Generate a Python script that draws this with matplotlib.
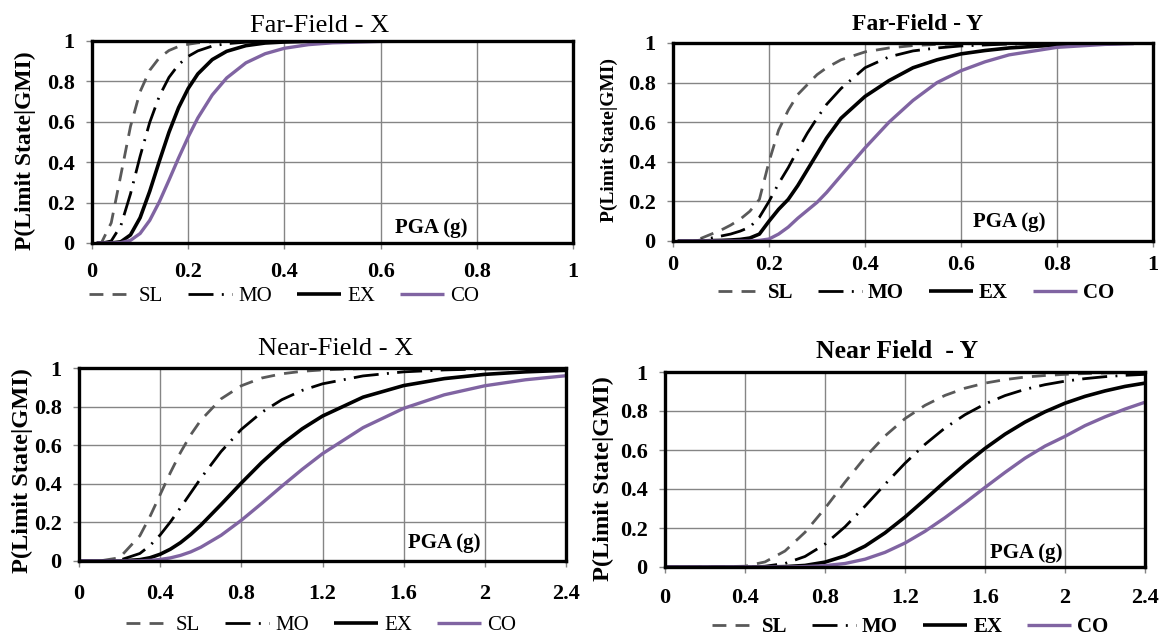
# fragility curves for far-field / near-field records, X and Y directions
# P(limit state | GMI) vs PGA for SL, MO, EX, CO limit states

import matplotlib
matplotlib.use('AGG')
import matplotlib.pyplot as plt

plt.rcParams['font.family'] = ['Liberation Serif', 'DejaVu Serif']

#%% data

labels = ['SL', 'MO', 'EX', 'CO']

# Far-Field - X
pga_ffx = [0.01, 0.02, 0.04, 0.06, 0.08, 0.10, 0.12, 0.14, 0.16, 0.18, 0.20, 0.22,
           0.25, 0.28, 0.32, 0.36, 0.40, 0.45, 0.50, 0.60, 0.70, 0.80, 0.90, 1.00]
sl_ffx = [0, 0.003, 0.100, 0.337, 0.577, 0.749, 0.855, 0.917, 0.953, 0.973, 0.984, 0.991,
          0.996, 0.998, 0.999, 1, 1, 1, 1, 1, 1, 1, 1, 1]
mo_ffx = [0, 0, 0.010, 0.086, 0.243, 0.429, 0.597, 0.727, 0.820, 0.883, 0.924, 0.951,
          0.975, 0.987, 0.994, 0.997, 0.999, 1, 1, 1, 1, 1, 1, 1]
ex_ffx = [0, 0, 0, 0.006, 0.040, 0.125, 0.256, 0.405, 0.548, 0.670, 0.765, 0.837,
          0.908, 0.949, 0.977, 0.990, 0.995, 0.998, 0.999, 1, 1, 1, 1, 1]
co_ffx = [0, 0, 0, 0.002, 0.013, 0.047, 0.112, 0.204, 0.311, 0.421, 0.525, 0.619,
          0.733, 0.817, 0.892, 0.937, 0.964, 0.982, 0.991, 0.998, 0.999, 1, 1, 1]

# Far-Field - Y
pga_ffy = [0.01, 0.04, 0.06, 0.08, 0.10, 0.12, 0.14, 0.16, 0.18, 0.20, 0.22, 0.24, 0.26, 0.28,
           0.30, 0.32, 0.35, 0.40, 0.45, 0.50, 0.55, 0.60, 0.65, 0.70, 0.80, 0.90, 0.96]
sl_ffy = [0, 0, 0.015, 0.035, 0.055, 0.08, 0.11, 0.15, 0.21, 0.40, 0.56, 0.66, 0.74, 0.79,
          0.84, 0.875, 0.915, 0.955, 0.975, 0.987, 0.993, 0.996, 0.998, 1, 1, 1, 1]
mo_ffy = [0, 0, 0.005, 0.015, 0.025, 0.035, 0.05, 0.07, 0.12, 0.20, 0.29, 0.37, 0.46, 0.545,
          0.62, 0.69, 0.77, 0.875, 0.93, 0.96, 0.975, 0.985, 0.99, 0.995, 0.998, 1, 1]
ex_ffy = [0, 0, 0, 0.002, 0.003, 0.005, 0.008, 0.015, 0.035, 0.10, 0.16, 0.21, 0.28, 0.36,
          0.44, 0.52, 0.62, 0.73, 0.81, 0.875, 0.915, 0.945, 0.962, 0.975, 0.99, 0.997, 1]
co_ffy = [0, 0, 0, 0, 0, 0, 0, 0, 0.003, 0.01, 0.035, 0.07, 0.115, 0.155,
          0.195, 0.245, 0.33, 0.47, 0.60, 0.71, 0.80, 0.86, 0.905, 0.94, 0.978, 0.993, 0.997]

# Near-Field - X
pga_nfx = [0, 0.1, 0.2, 0.3, 0.35, 0.4, 0.45, 0.5, 0.55, 0.6, 0.7, 0.8, 0.9, 1.0, 1.1,
           1.2, 1.4, 1.6, 1.8, 2.0, 2.2, 2.4]
sl_nfx = [0, 0, 0.017, 0.131, 0.231, 0.344, 0.457, 0.562, 0.653, 0.729, 0.840, 0.908, 0.948,
          0.970, 0.983, 0.990, 0.997, 0.999, 1, 1, 1, 1]
mo_nfx = [0, 0, 0.004, 0.039, 0.080, 0.135, 0.202, 0.276, 0.352, 0.428, 0.567, 0.682, 0.770,
          0.836, 0.884, 0.918, 0.959, 0.980, 0.990, 0.995, 0.997, 0.998]
ex_nfx = [0, 0, 0, 0.007, 0.017, 0.035, 0.061, 0.095, 0.137, 0.185, 0.293, 0.404, 0.510,
          0.605, 0.685, 0.751, 0.849, 0.909, 0.945, 0.967, 0.980, 0.988]
co_nfx = [0, 0, 0, 0.001, 0.003, 0.008, 0.016, 0.029, 0.047, 0.071, 0.133, 0.211, 0.298,
          0.388, 0.475, 0.556, 0.691, 0.791, 0.861, 0.908, 0.939, 0.960]

# Near Field - Y
pga_nfy = [0, 0.2, 0.4, 0.5, 0.6, 0.7, 0.8, 0.9, 1.0, 1.1, 1.2, 1.3, 1.4, 1.5, 1.6, 1.7,
           1.8, 1.9, 2.0, 2.1, 2.2, 2.3, 2.4]
sl_nfy = [0, 0, 0.004, 0.026, 0.082, 0.178, 0.301, 0.435, 0.562, 0.672, 0.761, 0.829, 0.880,
          0.917, 0.943, 0.961, 0.974, 0.982, 0.988, 0.992, 0.995, 0.996, 0.997]
mo_nfy = [0, 0, 0, 0.004, 0.018, 0.054, 0.117, 0.206, 0.312, 0.424, 0.532, 0.629, 0.713,
          0.781, 0.836, 0.879, 0.911, 0.935, 0.953, 0.966, 0.976, 0.983, 0.988]
ex_nfy = [0, 0, 0, 0, 0.002, 0.008, 0.025, 0.057, 0.107, 0.175, 0.256, 0.346, 0.438,
          0.526, 0.608, 0.681, 0.743, 0.796, 0.840, 0.875, 0.903, 0.926, 0.943]
co_nfy = [0, 0, 0, 0, 0, 0.002, 0.007, 0.018, 0.040, 0.075, 0.123, 0.183, 0.253,
          0.329, 0.408, 0.485, 0.558, 0.620, 0.670, 0.725, 0.770, 0.810, 0.845]

titles = ['Far-Field - X', 'Far-Field - Y', 'Near-Field - X', 'Near Field  - Y']
xticks_ff = [0, 0.2, 0.4, 0.6, 0.8, 1]
xticks_nf = [0, 0.4, 0.8, 1.2, 1.6, 2, 2.4]
yticks = [0, 0.2, 0.4, 0.6, 0.8, 1]

#%% layout (pixels in a 1161x639 figure)
W, H = 1161, 639
panels = [
    dict(x=pga_ffx, y=[sl_ffx, mo_ffx, ex_ffx, co_ffx], xmax=1.0, xt=xticks_ff,
         box=(92, 573, 41, 243), title=(320, 32, 19, 'normal'), ylab=(25, 151, 17),
         pga=(0.705, 0.074), leg=(284, 296, 'normal'), xpad=10),
    dict(x=pga_ffy, y=[sl_ffy, mo_ffy, ex_ffy, co_ffy], xmax=1.0, xt=xticks_ff,
         box=(673, 1153, 43, 241), title=(918, 30, 17, 'bold'), ylab=(609, 140, 14),
         pga=(0.70, 0.096), leg=(916, 293, 'bold'), xpad=6),
    dict(x=pga_nfx, y=[sl_nfx, mo_nfx, ex_nfx, co_nfx], xmax=2.4, xt=xticks_nf,
         box=(79, 566, 368, 561), title=(336, 355, 19, 'normal'), ylab=(22, 471, 17.5),
         pga=(1.80, 0.093), leg=(321, 625, 'normal'), xpad=12.5),
    dict(x=pga_nfy, y=[sl_nfy, mo_nfy, ex_nfy, co_nfy], xmax=2.4, xt=xticks_nf,
         box=(665, 1145, 372, 567), title=(897, 358, 18.5, 'bold'), ylab=(603, 479, 17.5),
         pga=(1.805, 0.072), leg=(910, 627, 'bold'), xpad=11),
]

colors = ['#595959', 'black', 'black', '#8064A2']
widths = [2.0, 2.0, 2.6, 2.4]
dashes = [(5, 3.3), (9, 3, 0.7, 3), None, None]

fig = plt.figure(figsize=(W / 100, H / 100), dpi=100)

for k, p in enumerate(panels):
    l, r, t, b = p['box']
    ax = fig.add_axes([l / W, 1 - b / H, (r - l) / W, (b - t) / H])

    for i in range(4):
        line, = ax.plot(p['x'], p['y'][i], color=colors[i], linewidth=widths[i],
                        label=labels[i], solid_capstyle='butt')
        if dashes[i] is not None:
            line.set_dashes(dashes[i])

    ax.set_xlim(0, p['xmax'])
    ax.set_ylim(0, 1)
    ax.set_xticks(p['xt'])
    ax.set_yticks(yticks)
    ax.set_xticklabels(['%g' % v for v in p['xt']])
    ax.set_yticklabels(['%g' % v for v in yticks])
    ax.grid(True, color='#858585', linewidth=1.0)
    ax.set_axisbelow(True)
    for s in ax.spines.values():
        s.set_linewidth(2.4)
        s.set_color('black')
    ax.tick_params(axis='both', direction='out', length=4, width=1, color='#858585',
                   labelsize=16)
    ax.tick_params(axis='x', pad=p['xpad'])
    ax.tick_params(axis='y', pad=8.5)
    for lab in ax.get_xticklabels() + ax.get_yticklabels():
        lab.set_fontweight('bold')

    ax.text(p['pga'][0], p['pga'][1], 'PGA (g)', fontsize=15, fontweight='bold',
            ha='center', va='center')

    tx, ty, tsize, tweight = p['title']
    fig.text(tx / W, 1 - ty / H, titles[k], fontsize=tsize,
             fontweight=tweight, ha='center', va='baseline')

    lx, ly, lsize = p['ylab']
    fig.text(lx / W, 1 - ly / H, 'P(Limit State|GMI)', fontsize=lsize, fontweight='bold',
             rotation=90, ha='center', va='center')

    gx, gy, gweight = p['leg']
    ax.legend(loc='center', bbox_to_anchor=(gx / W, 1 - gy / H), bbox_transform=fig.transFigure,
              ncol=4, frameon=False, prop={'weight': gweight, 'size': 15},
              handlelength=2.1, handletextpad=0.3, columnspacing=1.2, borderpad=0)

fig.savefig('out.png', dpi=100)
